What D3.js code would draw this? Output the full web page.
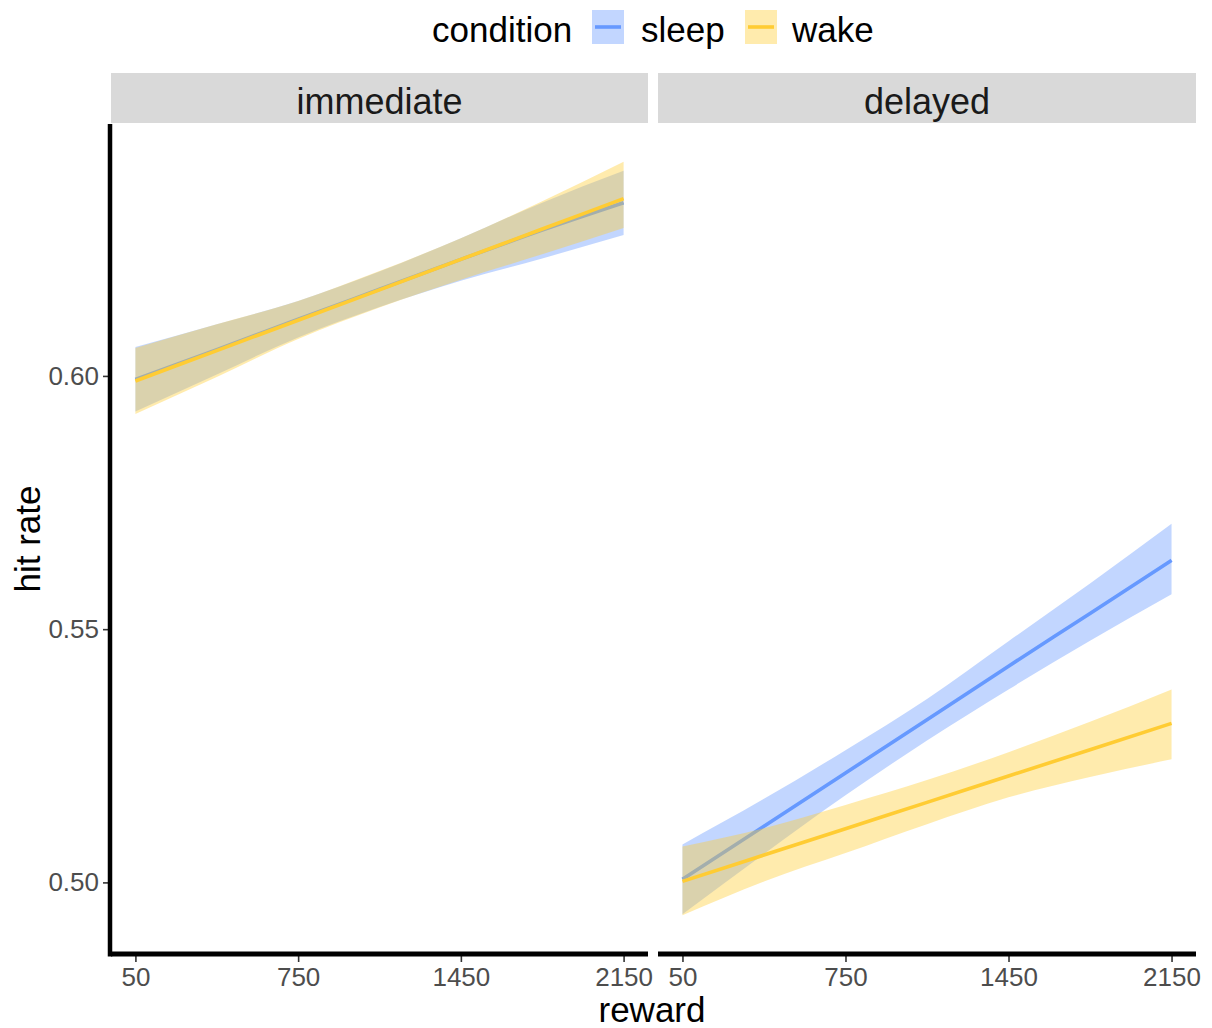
<!DOCTYPE html>
<html>
<head>
<meta charset="utf-8">
<script src="https://cdn.jsdelivr.net/npm/d3@7"></script>
<style>
  html, body { margin: 0; padding: 0; background: #fff; }
  svg { display: block; font-family: "Liberation Sans", Arial, sans-serif; }
</style>
</head>
<body>
<svg id="chart" width="1212" height="1028"></svg>
<script>
// ---- data ----
const rewards = [50, 400, 750, 1100, 1450, 1800, 2150];
const xTicks = [50, 750, 1450, 2150];
const yTicks = [0.50, 0.55, 0.60];
const panels = ["immediate", "delayed"];
const conditions = ["sleep", "wake"];

const immediateSleepFit   = [0.5993, 0.6052, 0.6112, 0.6171, 0.6230, 0.6288, 0.6342];
const immediateSleepLower = [0.5930, 0.6003, 0.6076, 0.6136, 0.6188, 0.6232, 0.6278];
const immediateSleepUpper = [0.6057, 0.6102, 0.6148, 0.6206, 0.6272, 0.6342, 0.6405];

const immediateWakeFit    = [0.5990, 0.6050, 0.6110, 0.6170, 0.6230, 0.6290, 0.6350];
const immediateWakeLower  = [0.5925, 0.5998, 0.6073, 0.6135, 0.6190, 0.6240, 0.6292];
const immediateWakeUpper  = [0.6055, 0.6102, 0.6148, 0.6207, 0.6272, 0.6345, 0.6423];

const delayedSleepFit     = [0.5006, 0.5111, 0.5216, 0.5321, 0.5427, 0.5531, 0.5636];
const delayedSleepLower   = [0.4937, 0.5056, 0.5172, 0.5280, 0.5381, 0.5477, 0.5569];
const delayedSleepUpper   = [0.5075, 0.5165, 0.5261, 0.5362, 0.5476, 0.5590, 0.5708];

const delayedWakeFit      = [0.5002, 0.5054, 0.5106, 0.5158, 0.5210, 0.5262, 0.5314];
const delayedWakeLower    = [0.4935, 0.5002, 0.5058, 0.5115, 0.5168, 0.5208, 0.5243];
const delayedWakeUpper    = [0.5071, 0.5107, 0.5153, 0.5202, 0.5257, 0.5317, 0.5381];

const colors = { sleep: "#6699FF", wake: "#FFCC33" };

// ---- build series ----
function build(fit, lo, hi) {
  return rewards.map((r, i) => ({ x: r, fit: fit[i], lo: lo[i], hi: hi[i] }));
}
const series = {
  immediate: { sleep: build(immediateSleepFit, immediateSleepLower, immediateSleepUpper),
               wake:  build(immediateWakeFit,  immediateWakeLower,  immediateWakeUpper) },
  delayed:   { sleep: build(delayedSleepFit, delayedSleepLower, delayedSleepUpper),
               wake:  build(delayedWakeFit,  delayedWakeLower,  delayedWakeUpper) }
};

// ---- layout ----
const svg = d3.select("#chart");
const panelTop = 124, panelBottom = 953;
const stripTop = 73;
const panelX = { immediate: [111, 648], delayed: [658, 1196] };
const FS = 35, SFS = 36, TFS = 26;

// y domain with 5% expansion
const allVals = [].concat(immediateSleepLower, immediateSleepUpper, immediateWakeLower, immediateWakeUpper,
                          delayedSleepLower, delayedSleepUpper, delayedWakeLower, delayedWakeUpper);
const yMin = d3.min(allVals), yMax = d3.max(allVals);
const yPad = (yMax - yMin) * 0.05;
const y = d3.scaleLinear().domain([yMin - yPad, yMax + yPad]).range([panelBottom, panelTop]);
const xMin = d3.min(rewards), xMax = d3.max(rewards), xPad = (xMax - xMin) * 0.05;

panels.forEach(p => {
  const [x0, x1] = panelX[p];
  const x = d3.scaleLinear().domain([xMin - xPad, xMax + xPad]).range([x0, x1]);
  const g = svg.append("g");

  // strip
  g.append("rect").attr("x", x0).attr("y", stripTop).attr("width", x1 - x0).attr("height", panelTop - stripTop - 1)
    .attr("fill", "#D9D9D9");
  g.append("text").attr("x", (x0 + x1) / 2).attr("y", 114).attr("text-anchor", "middle")
    .attr("font-size", SFS).attr("fill", "#1A1A1A").text(p);

  const area = d3.area().curve(d3.curveMonotoneX).x(d => x(d.x)).y0(d => y(d.lo)).y1(d => y(d.hi));
  const line = d3.line().curve(d3.curveMonotoneX).x(d => x(d.x)).y(d => y(d.fit));

  conditions.forEach(c => {
    g.append("path").attr("d", area(series[p][c])).attr("fill", colors[c]).attr("fill-opacity", 0.4);
    g.append("path").attr("d", line(series[p][c])).attr("fill", "none").attr("stroke", colors[c])
      .attr("stroke-width", 3.6);
  });

  // x axis
  const xa = g.append("g").attr("transform", `translate(0,${panelBottom})`)
    .call(d3.axisBottom(x).tickValues(xTicks).tickSize(9).tickPadding(6).tickFormat(d3.format("d")));
  xa.select(".domain").remove();
  xa.selectAll(".tick line").attr("stroke", "#333333").attr("stroke-width", 1.6);
  xa.selectAll(".tick text").attr("font-size", TFS).attr("fill", "#4D4D4D")
    .attr("font-family", "Liberation Sans, Arial, sans-serif");
  g.append("line").attr("x1", x0).attr("x2", x1).attr("y1", panelBottom + 1).attr("y2", panelBottom + 1)
    .attr("stroke", "#000").attr("stroke-width", 5);

  if (p === "immediate") {
    const ya = g.append("g").attr("transform", `translate(${x0},0)`)
      .call(d3.axisLeft(y).tickValues(yTicks).tickSize(8).tickPadding(4).tickFormat(d3.format(".2f")));
    ya.select(".domain").remove();
    ya.selectAll(".tick line").attr("stroke", "#333333").attr("stroke-width", 1.6);
    ya.selectAll(".tick text").attr("font-size", TFS).attr("fill", "#4D4D4D")
      .attr("font-family", "Liberation Sans, Arial, sans-serif");
    g.append("line").attr("x1", x0 - 1).attr("x2", x0 - 1).attr("y1", panelTop).attr("y2", panelBottom + 3.5)
      .attr("stroke", "#000").attr("stroke-width", 4.5);
  }
});

// axis titles
svg.append("text").attr("x", 652).attr("y", 1022).attr("text-anchor", "middle")
  .attr("font-size", FS).attr("fill", "#000").text("reward");
svg.append("text").attr("transform", "translate(40,539) rotate(-90)").attr("text-anchor", "middle")
  .attr("font-size", FS).attr("fill", "#000").text("hit rate");

// legend
const lg = svg.append("g");
lg.append("text").attr("x", 432).attr("y", 42).attr("font-size", FS).attr("fill", "#000").text("condition");
const keyX = { sleep: 592, wake: 745 };
const labX = { sleep: 641, wake: 792 };
conditions.forEach(c => {
  lg.append("rect").attr("x", keyX[c]).attr("y", 10).attr("width", 32).attr("height", 34)
    .attr("fill", colors[c]).attr("fill-opacity", 0.4);
  lg.append("line").attr("x1", keyX[c] + 3).attr("x2", keyX[c] + 29).attr("y1", 27).attr("y2", 27)
    .attr("stroke", colors[c]).attr("stroke-width", 3.6);
  lg.append("text").attr("x", labX[c]).attr("y", 42).attr("font-size", FS).attr("fill", "#000").text(c);
});
</script>
</body>
</html>
